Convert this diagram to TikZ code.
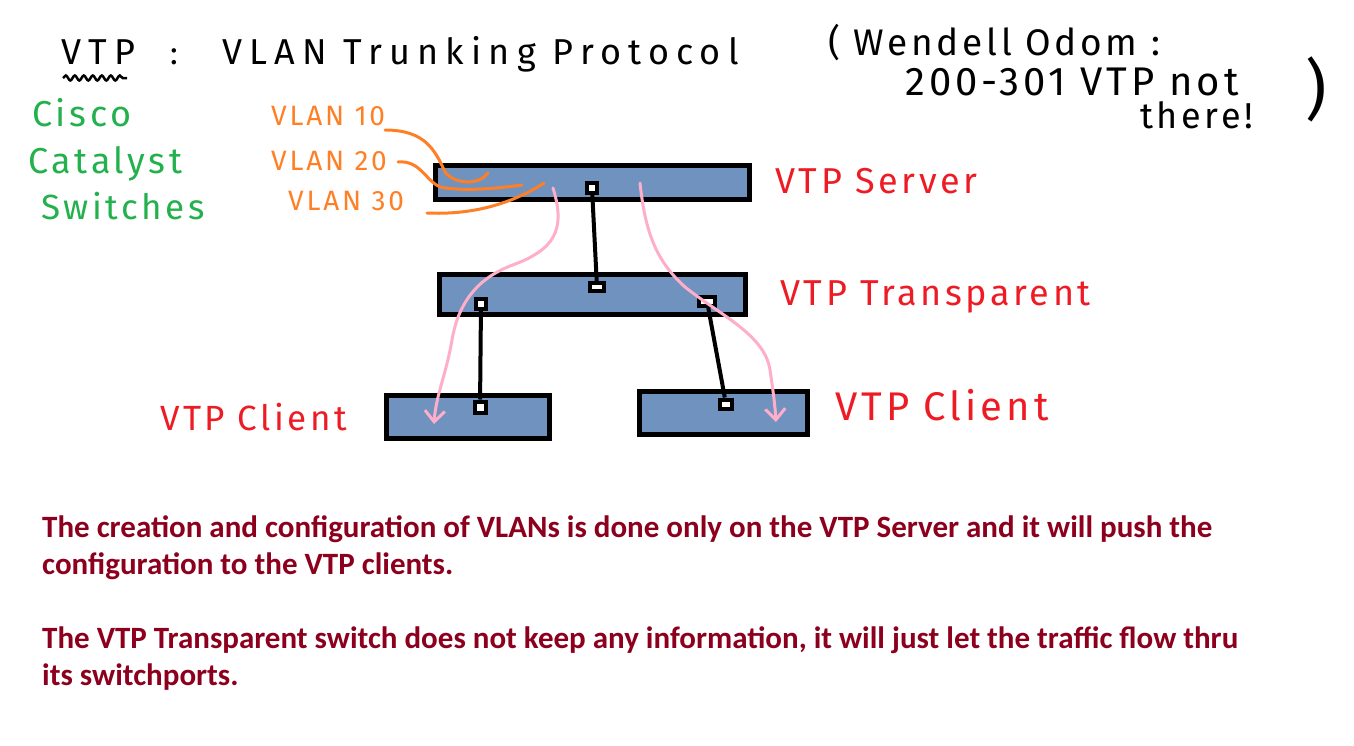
\documentclass[tikz,border=0pt]{standalone}
\usepackage{fontspec}
\setmainfont{Carlito}
\newfontfamily\handfont[LetterSpace=10]{Fira Sans}
\newfontfamily\widehand[LetterSpace=20]{Fira Sans}
\usetikzlibrary{arrows.meta,decorations.pathmorphing}
\definecolor{swfill}{RGB}{112,146,190}
\definecolor{ciscogreen}{RGB}{34,177,76}
\definecolor{vlanorange}{RGB}{255,127,39}
\definecolor{rolered}{RGB}{237,28,36}
\definecolor{pushpink}{RGB}{255,174,201}
\definecolor{notered}{RGB}{140,0,30}
\tikzset{
  switchbox/.style={draw=black, fill=swfill, line width=5pt, inner sep=0pt},
  portbox/.style={draw=black, fill=white, line width=4pt, inner sep=0pt},
  trunkln/.style={line width=4pt},
  vlanln/.style={vlanorange, line width=3pt, line cap=round},
  pushln/.style={pushpink, line width=3pt, line cap=round,
    -{Straight Barb[length=11pt,width=20pt,line width=3pt]}},
  hand/.style={font=\handfont\fontsize{#1}{#1}\selectfont, inner sep=0pt, anchor=base west},
}

\begin{document}
\begin{tikzpicture}[x=1pt,y=-1pt]
    \useasboundingbox (0,0) rectangle (1354,745);
    % title
    \node[hand=36, font=\widehand\fontsize{36}{36}\selectfont] (vtp) at (61,64) {VTP};
    \node[hand=32] (colon) at (170,64) {:};
    \node[hand=36, font=\widehand\fontsize{36}{36}\selectfont] (title) at (222,64) {VLAN Trunking Protocol};
    \draw[line width=2.5pt, decorate,
      decoration={snake, amplitude=2.5pt, segment length=9pt}] (63,78) -- (127,78);
    % side note
    \node[hand=37] (note1) at (828,55) {( Wendell Odom :};
    \node[hand=40] (note2) at (905,95) {200-301 VTP not};
    \node[hand=36] (note3) at (1140,128) {there!};
    \node[hand=66] (noteparen) at (1305,112) {)};
    % cisco catalyst switches
    \node[hand=36, ciscogreen] (cisco) at (32,126) {Cisco};
    \node[hand=36, ciscogreen] (catalyst) at (28,173) {Catalyst};
    \node[hand=35, ciscogreen] (switches) at (41,219) {Switches};
    % vlans
    \node[hand=28, vlanorange] (vlan10) at (271,125) {VLAN 10};
    \node[hand=28, vlanorange] (vlan20) at (271,170) {VLAN 20};
    \node[hand=28, vlanorange] (vlan30) at (288,210) {VLAN 30};
    % switches
    \node[switchbox, minimum width=314pt, minimum height=34pt] (server) at (592.5,182.5) {};
    \node[switchbox, minimum width=306pt, minimum height=40pt] (transp) at (592.5,294.5) {};
    \node[switchbox, minimum width=163pt, minimum height=43pt] (clientA) at (468,417) {};
    \node[switchbox, minimum width=168pt, minimum height=43pt] (clientB) at (723.5,413) {};
    % ports
    \node[portbox, minimum width=10pt, minimum height=10pt] (srvport) at (592,188) {};
    \node[portbox, minimum width=14pt, minimum height=8pt] (trtop) at (597,287) {};
    \node[portbox, minimum width=10pt, minimum height=10pt] (trleft) at (481,304) {};
    \node[portbox, minimum width=16pt, minimum height=9pt] (trright) at (707,301) {};
    \node[portbox, minimum width=11pt, minimum height=11pt] (portA) at (480,407) {};
    \node[portbox, minimum width=12pt, minimum height=9pt] (portB) at (726,404) {};
    % trunk links
    \draw[trunkln] (srvport) -- (trtop);
    \draw[trunkln] (trleft) -- (portA);
    \draw[trunkln] (trright) -- (portB);
    % vlans into the server
    \draw[vlanln] (385,130) .. controls (425,130) and (435,150) .. (445,172)
      .. controls (455,185) and (480,185) .. (488,173);
    \draw[vlanln] (398,162) .. controls (420,160) and (425,180) .. (440,187)
      .. controls (465,192) and (500,188) .. (522,185);
    \draw[vlanln] (427,213) .. controls (470,215) and (510,205) .. (544,183);
    % config pushed to the clients
    \draw[pushln] (553,188) .. controls (566,230) and (555,250) .. (510,266)
      .. controls (475,280) and (458,305) .. (452,340)
      .. controls (446,375) and (436,395) .. (434,424);
    \draw[pushln] (640,183) .. controls (645,230) and (655,260) .. (685,287)
      .. controls (720,315) and (765,335) .. (770,370)
      .. controls (773,390) and (775,405) .. (776,422);
    % roles
    \node[hand=36, rolered] (lblserver) at (775,193) {VTP Server};
    \node[hand=36, rolered] (lbltransp) at (780,305) {VTP Transparent};
    \node[hand=35, rolered] (lblclientA) at (160,430) {VTP Client};
    \node[hand=40, rolered] (lblclientB) at (835,420) {VTP Client};
    % notes
    \node[notered, font=\bfseries\fontsize{31}{37}\selectfont, align=left,
      anchor=north west, inner sep=0pt] (notes) at (42,515)
      {The creation and configuration of VLANs is done only on the VTP Server and it will push the\\
       configuration to the VTP clients.\\[37pt]
       The VTP Transparent switch does not keep any information, it will just let the traffic flow thru\\
       its switchports.};
\end{tikzpicture}
\end{document}
